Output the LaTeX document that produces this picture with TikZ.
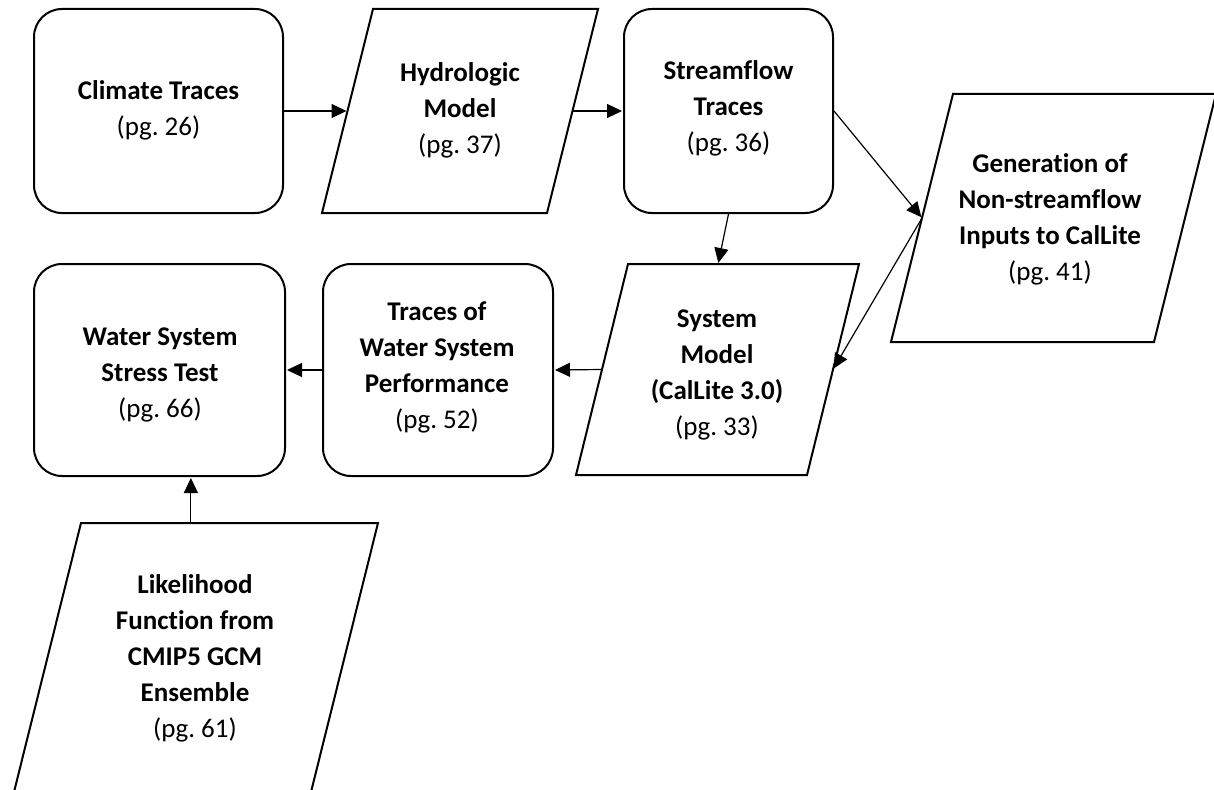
\documentclass[tikz,border=0pt]{standalone}
\usepackage{fontspec}
\setmainfont{Carlito}[Ligatures=NoCommon]
\frenchspacing
\usetikzlibrary{arrows.meta,calc}
\begin{document}
\begin{tikzpicture}[x=1pt,y=-1pt,
  rbox/.style={draw, line width=2pt, rounded corners=28pt, inner sep=0pt},
  para/.style={draw, line width=2pt, line join=miter},
  txt/.style={align=center, font=\fontsize{27}{36}\selectfont, inner sep=0pt},
  arr/.style={line width=1.2pt, shorten >=1pt, -{Triangle[length=15pt,width=14pt]}}]
\useasboundingbox (0,0) rectangle (1214,789);
% rounded boxes
\node[rbox, minimum width=249pt, minimum height=204pt] (climate) at (158.5,111) {};
\node[rbox, minimum width=209pt, minimum height=204pt] (sf) at (728.5,111) {};
\node[rbox, minimum width=230pt, minimum height=212pt] (traces) at (438,370) {};
\node[rbox, minimum width=251pt, minimum height=212pt] (stress) at (159.5,370) {};
% parallelogram corners
\coordinate (hydroTL) at (373,9);   \coordinate (hydroTR) at (598,9);
\coordinate (hydroBR) at (547,213); \coordinate (hydroBL) at (322,213);
\coordinate (sysTL) at (628,264);   \coordinate (sysTR) at (859,264);
\coordinate (sysBR) at (807,475);   \coordinate (sysBL) at (576,475);
\coordinate (genTL) at (953,94);    \coordinate (genTR) at (1216,94);
\coordinate (genBR) at (1154,342);  \coordinate (genBL) at (891,342);
\coordinate (likTL) at (81,523);    \coordinate (likTR) at (378,523);
\coordinate (likBR) at (309,800);   \coordinate (likBL) at (12,800);
\draw[para] (hydroTL) -- (hydroTR) -- (hydroBR) -- (hydroBL) -- cycle;
\draw[para] (sysTL) -- (sysTR) -- (sysBR) -- (sysBL) -- cycle;
\draw[para] (genTL) -- (genTR) -- (genBR) -- (genBL) -- cycle;
\draw[para] (likTL) -- (likTR) -- (likBR) -- (likBL) -- cycle;
% side points
\coordinate (hydroL) at ($(hydroTL)!0.5!(hydroBL)$);
\coordinate (hydroR) at ($(hydroTR)!0.5!(hydroBR)$);
\coordinate (genL) at ($(genTL)!0.5!(genBL)$);
\coordinate (sysL) at ($(sysTL)!0.5!(sysBL)$);
\coordinate (sysR) at ($(sysTR)!0.5!(sysBR)$);
\coordinate (sysT) at ($(sysTL)!0.39!(sysTR)$);
\coordinate (likT) at ($(likTL)!0.37!(likTR)$);
% texts
\node[txt] (climateT) at (158.5,110) {\textbf{Climate Traces}\\(pg. 26)};
\node[txt] (hydroText) at (460,110) {\textbf{Hydrologic}\\\textbf{Model}\\(pg. 37)};
\node[txt] (sfT) at (728.5,108) {\textbf{Streamflow}\\\textbf{Traces}\\(pg. 36)};
\node[txt] (genText) at (1050,219.5) {\textbf{Generation of}\\\textbf{Non-streamflow}\\\textbf{Inputs to CalLite}\\(pg. 41)};
\node[txt] (sysText) at (717,375) {\textbf{System}\\\textbf{Model}\\\textbf{(CalLite 3.0)}\\(pg. 33)};
\node[txt] (tracesT) at (437,367) {\textbf{Traces of}\\\textbf{Water System}\\\textbf{Performance}\\(pg. 52)};
\node[txt] (stressT) at (160,375) {\textbf{Water System}\\\textbf{Stress Test}\\(pg. 66)};
\node[txt] (likText) at (195,658.5) {\textbf{Likelihood}\\\textbf{Function from}\\\textbf{CMIP5 GCM}\\\textbf{Ensemble}\\(pg. 61)};
% connectors
\draw[arr] (climate.east) -- (hydroL);
\draw[arr] (hydroR) -- (sf.west);
\draw[arr] (sf.east) -- (genL);
\draw[arr] (sf.south) -- (sysT);
\draw[arr] (genL) -- (sysR);
\draw[arr] (sysL) -- (traces.east);
\draw[arr] (traces.west) -- (stress.east);
\draw[arr] (likT) -- (likT |- stress.south);
\end{tikzpicture}
\end{document}
